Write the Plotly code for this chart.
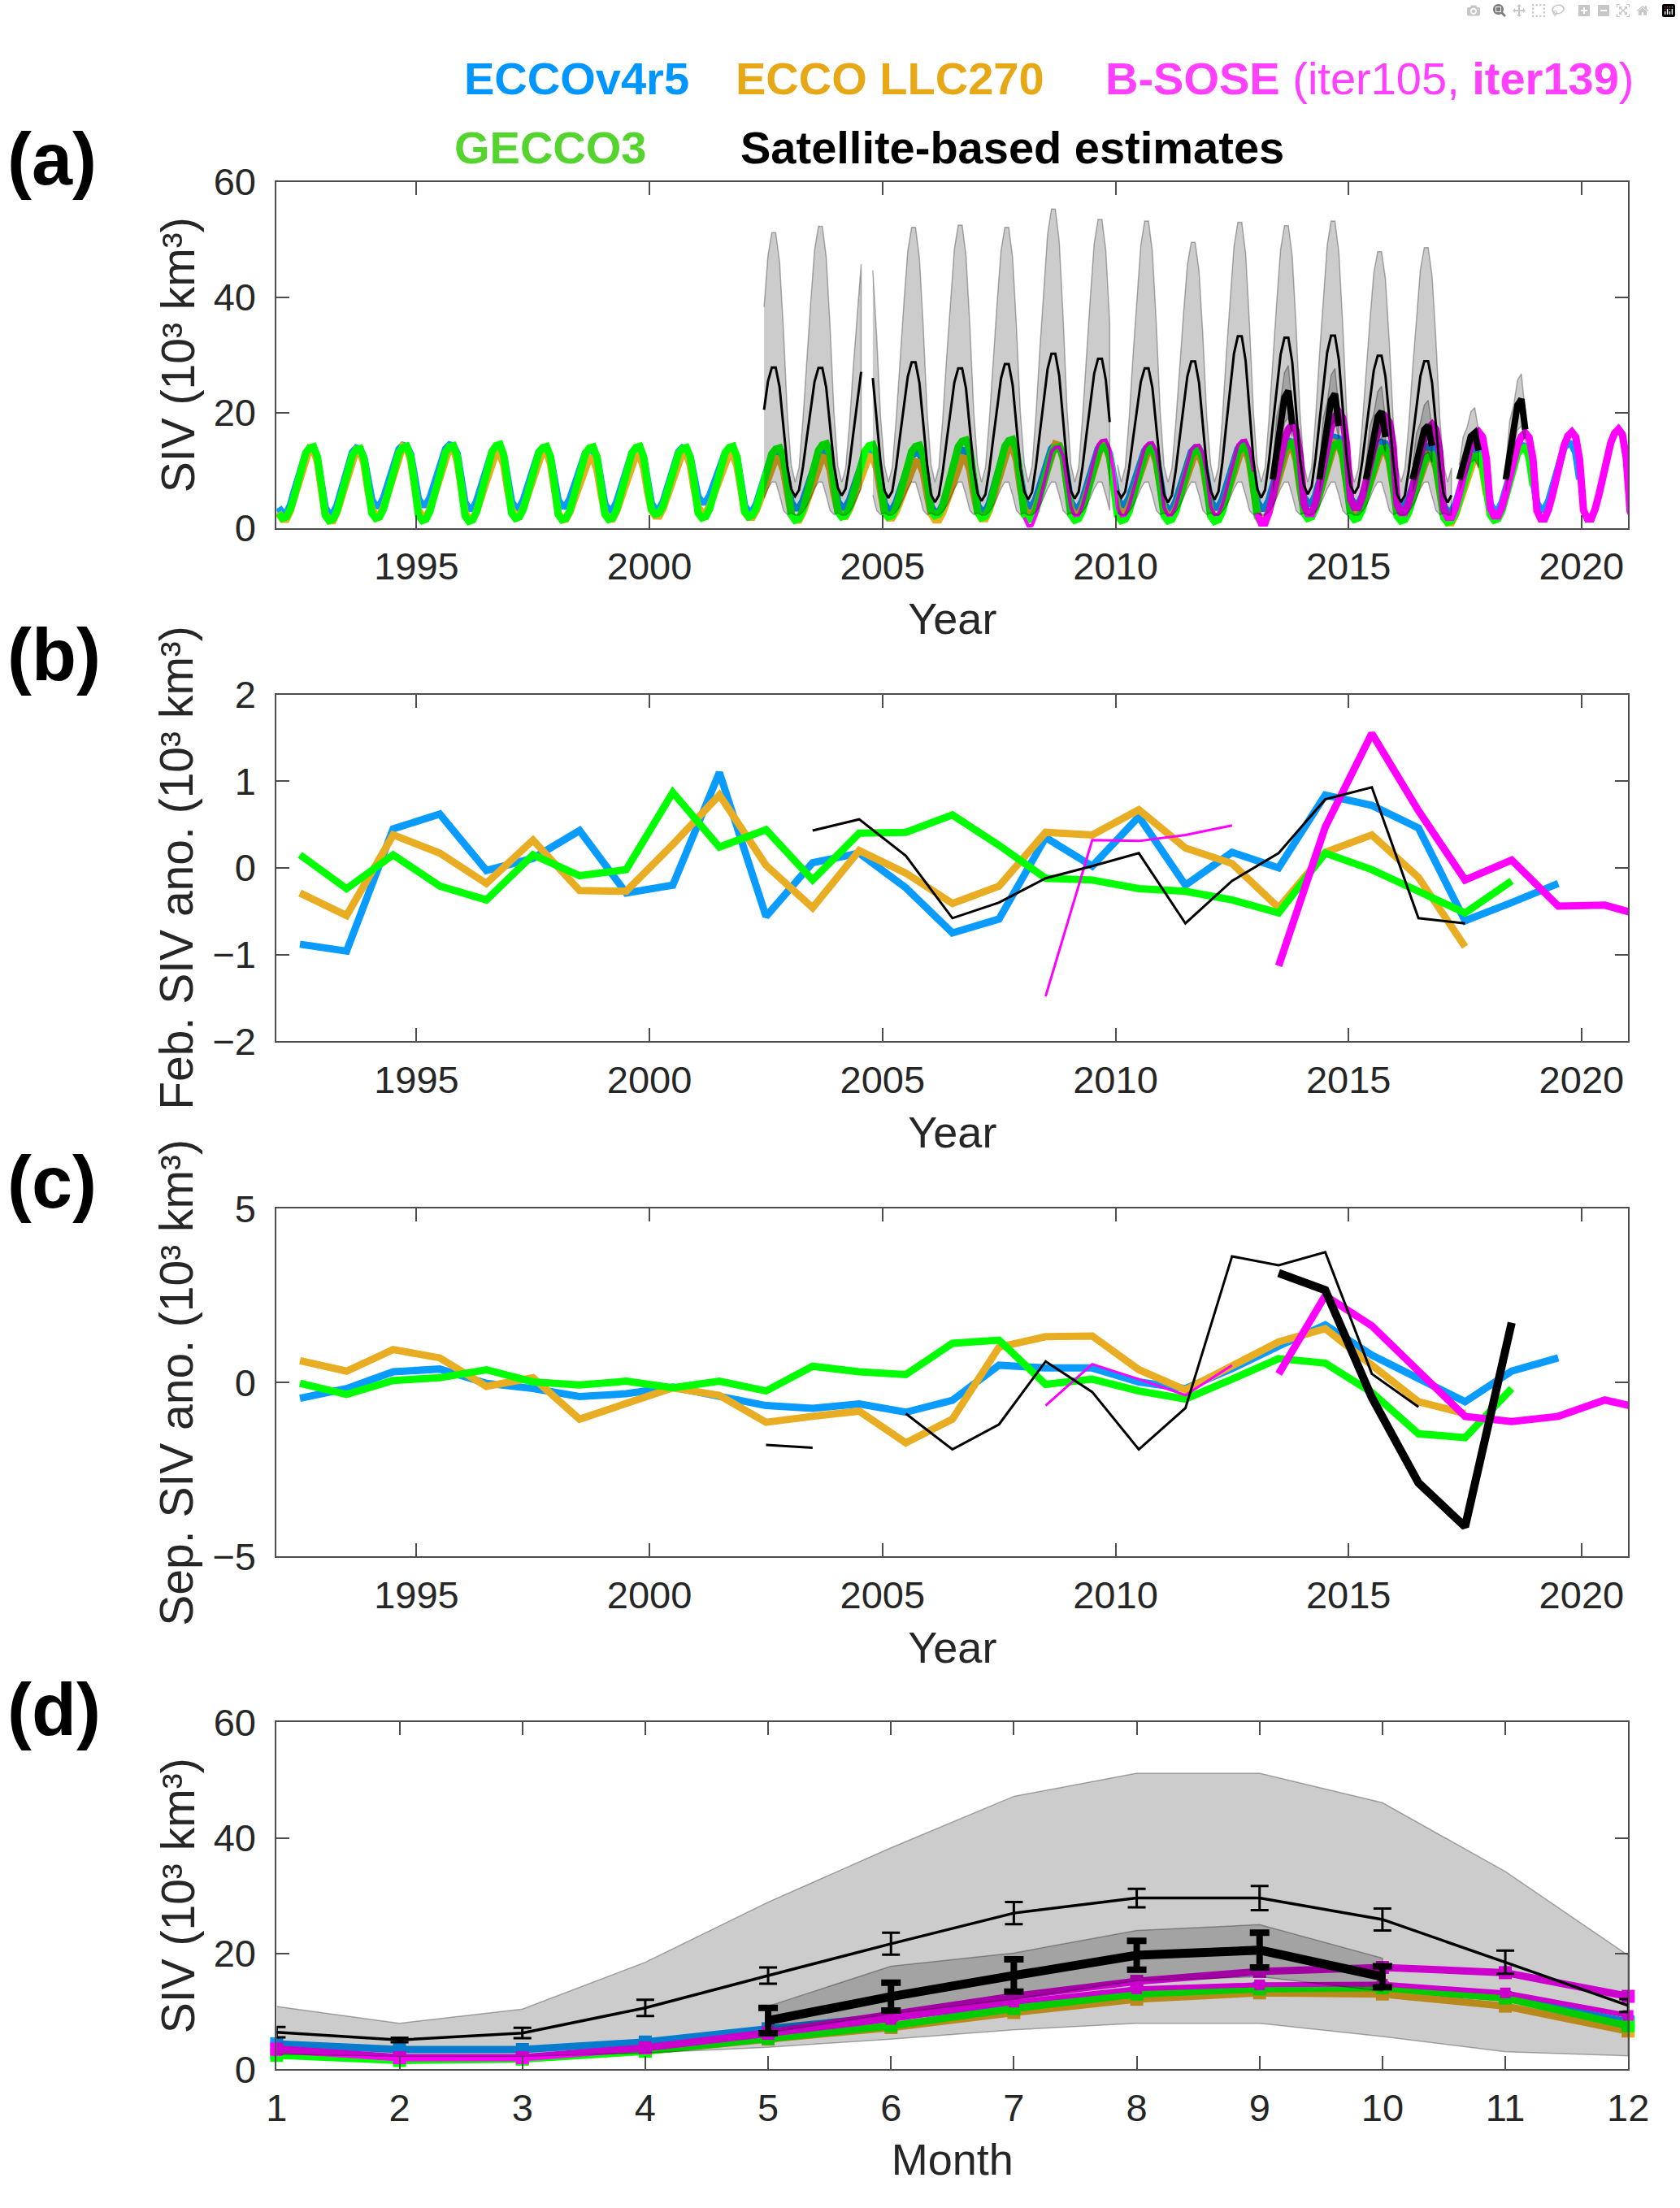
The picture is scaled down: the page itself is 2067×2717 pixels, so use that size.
import plotly.graph_objects as go

W, H = 2067, 2717

BLUE = '#0A9BFF'
ORANGE = '#E8AD22'
GREEN = '#00FF00'
MAGENTA = '#FF00FF'
SHADE = 'rgba(0,0,0,0.2)'
SHADE_EDGE = 'rgba(0,0,0,0.3)'
FONT = 'Liberation Sans'

# ---------------- (d) monthly climatology (10^3 km^3) ----------------
months = list(range(1, 13))
ecco_clim = [4.4, 3.4, 3.4, 4.7, 7.0, 9.0, 11.3, 13.3, 14.0, 13.8, 12.4, 8.2]
llc270_clim = [2.9, 1.8, 1.8, 3.1, 5.2, 7.2, 9.8, 12.1, 13.2, 13.0, 10.9, 6.6]
gecco_clim = [2.4, 1.5, 1.75, 3.1, 5.3, 7.5, 10.5, 13.0, 13.9, 14.1, 12.3, 7.5]
sose105_clim = [3.2, 1.8, 1.9, 3.5, 6.0, 8.6, 11.6, 13.9, 14.6, 14.7, 13.2, 9.3]
sose139_clim = [3.5, 2.0, 2.0, 3.7, 6.3, 9.3, 12.6, 15.2, 16.9, 17.6, 16.7, 12.6]
sat1_clim = [6.4, 5.05, 6.25, 10.6, 16.2, 21.7, 27.0, 29.6, 29.6, 25.9, 18.5, 11.0]
sat1_err = [0.9, 0.4, 0.9, 1.4, 1.4, 1.9, 1.9, 1.6, 2.1, 1.9, 2.0, 1.1]
sat1_hi = [10.85, 7.95, 10.4, 18.5, 28.9, 38.3, 47.2, 51.2, 51.2, 46.1, 34.2, 19.7]
sat1_lo = [2.6, 2.2, 2.2, 2.8, 3.8, 5.2, 6.8, 7.95, 7.95, 5.65, 3.0, 2.3]
sat2_months = [5, 6, 7, 8, 9, 10]
sat2_clim = [8.4, 12.55, 16.2, 19.7, 20.6, 16.0]
sat2_err = [2.2, 2.4, 2.8, 2.5, 3.0, 1.8]
sat2_hi = [10.9, 17.8, 20.1, 24.0, 25.0, 19.2]
sat2_lo = [6.3, 9.6, 12.1, 15.3, 16.0, 13.5]

# ---------------- (b) February anomalies ----------------
ecco_yrs = list(range(1992, 2020))
ecco_feb = [-0.88, -0.96, 0.45, 0.62, -0.03, 0.11, 0.43, -0.29, -0.20, 1.10, -0.56, 0.06, 0.17, -0.23,
            -0.75, -0.59, 0.35, 0.02, 0.59, -0.20, 0.18, 0.00, 0.84, 0.72, 0.46, -0.61, -0.40, -0.18]
llc270_yrs = list(range(1992, 2018))
llc270_feb = [-0.29, -0.55, 0.38, 0.17, -0.18, 0.32, -0.26, -0.27, 0.27, 0.84, 0.03, -0.46, 0.20,
              -0.06, -0.41, -0.21, 0.41, 0.38, 0.67, 0.23, 0.05, -0.46, 0.18, 0.38, -0.11, -0.91]
gecco_yrs = list(range(1992, 2019))
gecco_feb = [0.15, -0.24, 0.15, -0.21, -0.37, 0.15, -0.09, -0.02, 0.87, 0.24, 0.44, -0.14, 0.40, 0.41,
             0.61, 0.26, -0.12, -0.14, -0.24, -0.27, -0.37, -0.52, 0.17, -0.02, -0.27, -0.52, -0.15]
sose105_yrs = list(range(2008, 2013))
sose105_feb = [-1.48, 0.32, 0.31, 0.38, 0.49]
sose139_yrs = list(range(2013, 2022))
sose139_feb = [-1.13, 0.47, 1.55, 0.66, -0.14, 0.09, -0.44, -0.43, -0.58]
sat1_feb_yrs = list(range(2003, 2018))
sat1_feb = [0.43, 0.56, 0.14, -0.58, -0.40, -0.12, 0.02, 0.17, -0.64, -0.15, 0.17, 0.79, 0.93,
            -0.58, -0.64]

# ---------------- (c) September anomalies ----------------
ecco_sep = [-0.45, -0.17, 0.31, 0.39, -0.02, -0.17, -0.40, -0.32, -0.13, -0.40, -0.66, -0.74, -0.61,
            -0.85, -0.51, 0.50, 0.42, 0.42, 0.02, -0.17, 0.40, 1.05, 1.66, 0.79, 0.10, -0.55, 0.33, 0.71]
llc270_sep = [0.63, 0.33, 0.95, 0.71, -0.11, 0.14, -1.05, -0.59, -0.15, -0.37, -1.14, -0.97, -0.82,
              -1.73, -1.05, 1.02, 1.32, 1.34, 0.37, -0.21, 0.48, 1.17, 1.55, 0.48, -0.55, -0.89]
gecco_sep = [-0.02, -0.34, 0.06, 0.14, 0.37, 0.02, -0.07, 0.04, -0.15, 0.04, -0.24, 0.47, 0.31, 0.23,
             1.13, 1.22, -0.05, 0.10, -0.24, -0.47, 0.10, 0.69, 0.56, -0.28, -1.47, -1.58, -0.17]
sose105_sep = [-0.66, 0.53, 0.10, -0.36, 0.50]
sose139_sep = [0.25, 2.50, 1.63, 0.33, -0.97, -1.12, -0.97, -0.50, -0.80]
sat1_sep_yrs = list(range(2002, 2017))
sat1_sep = [-1.79, -1.87, None, -0.89, -1.92, -1.20, 0.61, -0.27, -1.92, -0.73, 3.63, 3.37, 3.75,
            0.25, -0.70]
sat2_yrs = list(range(2013, 2019))
sat2_sep = [3.15, 2.66, -0.43, -2.88, -4.14, 1.72]

# ---------------- (a) record spans and the satellite range peaks ----------------
sat1_start, sat1_end = (2002, 6), (2017, 3)
sat1_gaps = [(2004, 8), (2004, 9), (2009, 12)]
band_yrs = list(range(2002, 2017))
band_peak = [51.2, 52.3, 49.6, 52.1, 52.5, 52.1, 55.3, 53.5, 53.2, 49.5, 53.0, 52.4, 53.2, 47.9, 48.6]


def seasonal(mths, clim, feb_yrs, feb, sep_yrs, sep, start, end, gaps=()):
    """monthly record for (a): (d) climatology shifted by the Feb / Sep anomalies of each year"""
    base = dict(zip(mths, clim))
    lo, hi = min(clim), max(clim)
    fa = dict(zip(feb_yrs, feb))
    sa = dict(zip(sep_yrs, sep))
    t, v = [], []
    for yr in range(start[0], end[0] + 1):
        for m in mths:
            if (yr, m) < start or (yr, m) > end:
                continue
            if (yr, m) in gaps:
                t.append(None)
                v.append(None)
                continue
            w = (base[m] - lo) / (hi - lo)
            a = (1 - w) * (fa.get(yr) or 0.0) + w * (sa.get(yr) or 0.0)
            t.append(yr + (m - 0.5) / 12)
            v.append(base[m] + a)
        if len(mths) < 12:
            t.append(None)
            v.append(None)
    return t, v


def polygon(t, up, dn):
    xs, ys, seg = [], [], []
    for a, b, c in zip(t + [None], up + [None], dn + [None]):
        if a is None:
            if seg:
                xs += [p[0] for p in seg] + [p[0] for p in seg[::-1]] + [None]
                ys += [p[1] for p in seg] + [p[2] for p in seg[::-1]] + [None]
            seg = []
        else:
            seg.append((a, b, c))
    return xs, ys


fig = go.Figure()


def line(x, y, color, width, ax, **kw):
    fig.add_trace(go.Scatter(x=x, y=y, mode='lines', line=dict(color=color, width=width),
                             xaxis='x' + ax, yaxis='y' + ax, showlegend=False, **kw))


def shade(x, y, ax):
    fig.add_trace(go.Scatter(x=x, y=y, mode='lines', fill='toself', fillcolor=SHADE,
                             line=dict(color=SHADE_EDGE, width=1.5), xaxis='x' + ax, yaxis='y' + ax,
                             showlegend=False, hoverinfo='skip'))


# ---------------- panel (a) ----------------
line(*seasonal(months, ecco_clim, ecco_yrs, ecco_feb, ecco_yrs, ecco_sep, (1992, 1), (2019, 12)), BLUE, 9, '')
line(*seasonal(months, llc270_clim, llc270_yrs, llc270_feb, llc270_yrs, llc270_sep, (1992, 1), (2017, 12)), ORANGE, 9, '')
line(*seasonal(months, gecco_clim, gecco_yrs, gecco_feb, gecco_yrs, gecco_sep, (1992, 1), (2018, 12)), GREEN, 9, '')
line(*seasonal(months, sose139_clim, sose139_yrs, sose139_feb, sose139_yrs, sose139_sep, (2013, 1), (2021, 12)), MAGENTA, 9, '')
line(*seasonal(months, sose105_clim, sose105_yrs, sose105_feb, sose105_yrs, sose105_sep, (2008, 1), (2012, 12)), MAGENTA, 4, '')

band_anom = [p - max(sat1_hi) for p in band_peak]
t1, up1 = seasonal(months, sat1_hi, [], [], band_yrs, band_anom, sat1_start, sat1_end, sat1_gaps)
_, dn1 = seasonal(months, sat1_lo, [], [], [], [], sat1_start, sat1_end, sat1_gaps)
shade(*polygon(t1, up1, dn1), '')
t2, up2 = seasonal(sat2_months, sat2_hi, [], [], sat2_yrs, sat2_sep, (2013, 5), (2018, 10))
_, dn2 = seasonal(sat2_months, sat2_lo, [], [], sat2_yrs, sat2_sep, (2013, 5), (2018, 10))
shade(*polygon(t2, up2, dn2), '')
line(*seasonal(months, sat1_clim, sat1_feb_yrs, sat1_feb, sat1_sep_yrs, sat1_sep, sat1_start, sat1_end, sat1_gaps), 'black', 3, '')
line(*seasonal(sat2_months, sat2_clim, [], [], sat2_yrs, sat2_sep, (2013, 5), (2018, 10)), 'black', 8, '')

# ---------------- panels (b) and (c) ----------------
def mid(yrs):
    return [y + 0.5 for y in yrs]


for ax, series in (('2', (ecco_feb, llc270_feb, gecco_feb, sose105_feb, sose139_feb)),
                   ('3', (ecco_sep, llc270_sep, gecco_sep, sose105_sep, sose139_sep))):
    line(mid(ecco_yrs), series[0], BLUE, 9, ax)
    line(mid(llc270_yrs), series[1], ORANGE, 9, ax)
    line(mid(gecco_yrs), series[2], GREEN, 9, ax)
    line(mid(sose105_yrs), series[3], MAGENTA, 3, ax)
    line(mid(sose139_yrs), series[4], MAGENTA, 9, ax)
line(mid(sat1_feb_yrs), sat1_feb, 'black', 3, '2')
line(mid(sat1_sep_yrs), sat1_sep, 'black', 3, '3')
line(mid(sat2_yrs), sat2_sep, 'black', 10, '3')

# ---------------- panel (d) ----------------
for clim, col, wd, ms in ((ecco_clim, BLUE, 9, 16), (llc270_clim, ORANGE, 9, 16), (gecco_clim, GREEN, 9, 16),
                          (sose105_clim, MAGENTA, 6, 13), (sose139_clim, MAGENTA, 9, 16)):
    fig.add_trace(go.Scatter(x=months, y=clim, mode='lines+markers', line=dict(color=col, width=wd),
                             marker=dict(symbol='square', size=ms, color=col), cliponaxis=False,
                             xaxis='x4', yaxis='y4', showlegend=False))
shade(months + months[::-1], sat1_hi + sat1_lo[::-1], '4')
shade(sat2_months + sat2_months[::-1], sat2_hi + sat2_lo[::-1], '4')
fig.add_trace(go.Scatter(x=months, y=sat1_clim, mode='lines', line=dict(color='black', width=3.5),
                         error_y=dict(type='data', array=sat1_err, color='black', thickness=3, width=11),
                         xaxis='x4', yaxis='y4', showlegend=False))
fig.add_trace(go.Scatter(x=sat2_months, y=sat2_clim, mode='lines', line=dict(color='black', width=11),
                         error_y=dict(type='data', array=sat2_err, color='black', thickness=8, width=12),
                         xaxis='x4', yaxis='y4', showlegend=False))

# ---------------- axes ----------------
xdom = [333.7 / W, 2028.5 / W]
ydoms = [(200.7, 635), (844, 1279.3), (1489.3, 1926), (2134, 2569.3)]
style = dict(showline=True, linecolor='#4D4D4D', linewidth=2, mirror='ticks', ticks='inside',
             ticklen=16, tickwidth=2, tickcolor='#4D4D4D', showgrid=False, zeroline=False,
             tickfont=dict(family=FONT, size=47, color='#262626'))
year_ticks = [1995, 2000, 2005, 2010, 2015, 2020]
yranges = [([0, 60], [0, 20, 40, 60]), ([-2, 2], [-2, -1, 0, 1, 2]), ([-5, 5], [-5, 0, 5]),
           ([0, 60], [0, 20, 40, 60])]
ytitles = [('SIV (10³ km³)', 57), ('Feb. SIV ano. (10³ km³)', 57),
           ('Sep. SIV ano. (10³ km³)', 57), ('SIV (10³ km³)', 57)]
lay = {}
for i, ((top, bot), (yr, yt), (ytxt, yfs)) in enumerate(zip(ydoms, yranges, ytitles)):
    k = '' if i == 0 else str(i + 1)
    if i < 3:
        xa = dict(range=[1992, 2021], tickvals=year_ticks, title=dict(text='Year'))
    else:
        xa = dict(range=[1, 12], tickvals=months, title=dict(text='Month'))
    xa.update(style, domain=xdom, anchor='y' + k, ticklabelstandoff=5)
    xa['title'].update(font=dict(family=FONT, size=54, color='#262626'), standoff=20)
    lay['xaxis' + k] = xa
    ya = dict(style, range=yr, tickvals=yt, domain=[1 - bot / H, 1 - top / H], anchor='x' + k,
              ticklabelstandoff=14,
              title=dict(text=ytxt, standoff=5, font=dict(family=FONT, size=yfs, color='#262626')))
    lay['yaxis' + k] = ya
fig.update_layout(**lay)

# ---------------- panel letters, legend ----------------
ann = []
for lab, yc in (('(a)', 172), ('(b)', 795), ('(c)', 1456), ('(d)', 2118)):
    ann.append(dict(text='<b>%s</b>' % lab, x=-0.003, y=1 - yc / H, xanchor='left', yanchor='middle',
                    font=dict(family=FONT, size=90, color='black')))
legend_items = [('<b>ECCOv4r5</b>', '#0096FF', 567, 71), ('<b>ECCO LLC270</b>', '#E6A817', 907, 71),
                ('<b>B-SOSE</b> (iter105, <b>iter139</b>)', '#FF40FF', 1371, 71),
                ('<b>GECCO3</b>', '#55D42F', 554, 158), ('<b>Satellite-based estimates</b>', 'black', 913, 158)]
for txt, col, xl, yc in legend_items:
    ann.append(dict(text=txt, x=xl / W, y=1 - yc / H, xanchor='left', yanchor='middle',
                    font=dict(family=FONT, size=56, color=col)))
for a in ann:
    a.update(xref='paper', yref='paper', showarrow=False)

fig.update_layout(width=W, height=H, margin=dict(l=0, r=0, t=0, b=0), annotations=ann,
                  plot_bgcolor='white', paper_bgcolor='white', showlegend=False)

fig.write_html("out.html", post_script="document.body.style.margin='0px';")
